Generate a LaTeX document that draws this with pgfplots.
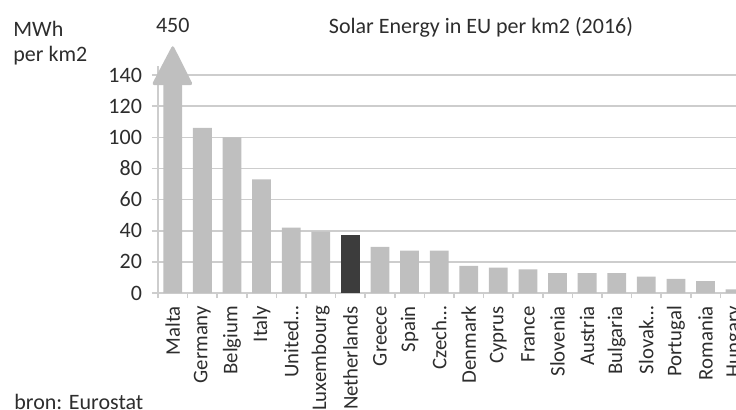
\documentclass[border=0pt]{standalone}
\usepackage{fontspec}
\setmainfont{Carlito}
\usepackage{pgfplots}
\usepackage{pgfplotstable}
\pgfplotsset{compat=1.18}
\definecolor{barg}{RGB}{191,191,191}
\definecolor{bard}{RGB}{60,60,60}
\definecolor{gridg}{RGB}{205,205,205}
\definecolor{txt}{RGB}{45,45,45}

% MWh per km2, 2016 (Malta = 450, drawn cut off)
\pgfplotstableread{
idx val
0  450
1  106
2  100
3  73
4  42
5  39.5
7  29.7
8  27.2
9  27.2
10 17.5
11 16.3
12 15.2
13 12.8
14 12.8
15 12.8
16 10.5
17 9
18 7.7
19 2.4
}\greydata
\pgfplotstableread{
idx val
6 37
}\nldata

\begin{document}
\begin{tikzpicture}[font=\fontsize{11}{12.5}\selectfont]
\useasboundingbox (-79pt,-58pt) rectangle (289pt,146.5pt);
\clip (-79pt,-58pt) rectangle (289pt,146.5pt);
\begin{axis}[
    at={(0,0)}, anchor=south west,
    scale only axis,
    width=289pt, height=113.66pt,
    xmin=-0.5, xmax=19.03,
    ymin=0, ymax=146,
    clip mode=individual,
    axis x line*=bottom, axis y line*=left,
    axis line style={gridg, line width=0.8pt, -},
    ytick={0,20,...,140},
    ymajorgrids,
    grid style={gridg, line width=0.8pt},
    xtick={0,...,19},
    xticklabels={Malta, Germany, Belgium, Italy, United\dots, Luxembourg,
      Netherlands, Greece, Spain, Czech\dots, Denmark, Cyprus, France,
      Slovenia, Austria, Bulgaria, Slovak\dots, Portugal, Romania, Hungary},
    major x tick style={draw=none},
    minor xtick={-0.5,0.5,...,18.5},
    minor tick length=2.5pt,
    major tick length=3pt,
    tick align=outside,
    tick style={gridg, line width=0.8pt},
    /pgf/number format/assume math mode=true,
    y tick label style={font=\fontsize{11}{12.5}\selectfont, text=txt, xshift=-1.5pt},
    x tick label style={font=\fontsize{10.4}{12}\selectfont, rotate=90, anchor=east, text=txt},
]
\addplot[ybar, bar width=9.4pt, fill=barg, draw=none] table[x=idx, y=val] {\greydata};
\addplot[ybar, bar width=9.4pt, fill=bard, draw=none] table[x=idx, y=val] {\nldata};
\fill[barg, rounded corners=1.5pt] (axis cs:-0.72,133.5) -- (axis cs:0,159.5) -- (axis cs:0.69,133.5) -- cycle;
\node[anchor=base, inner sep=0pt, text=txt] at (axis cs:0,167) {450};
\end{axis}
\node[anchor=north west, align=left, inner sep=0pt, text=txt] at (-72.5pt,136pt) {MWh\\per km2};
\node[anchor=base, inner sep=0pt, text=txt] at (161.5pt,130pt) {Solar Energy in EU per km2 (2016)};
\node[anchor=north west, inner sep=0pt, text=txt] at (-72pt,-50.5pt) {bron: Eurostat};
\end{tikzpicture}
\end{document}
